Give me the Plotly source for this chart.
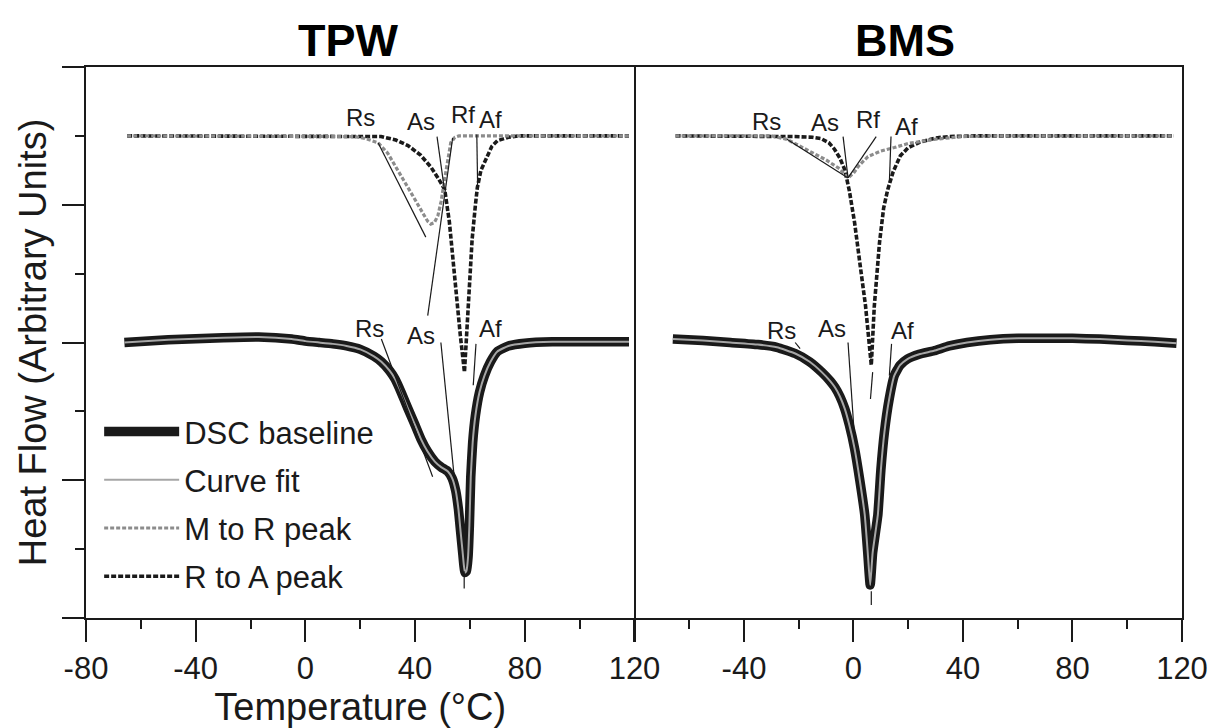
import plotly.graph_objects as go

# ---------------- data (temperature °C, heat flow in arbitrary units) ----------------
# TPW - DSC baseline (thick black) and curve fit (thin grey)
tpw_dsc_T = [-66, -50, -30, -17, -5, 0, 5, 10, 15, 20, 25, 27.7, 30.7, 32.7, 35, 37.4, 40, 42.1,
             44.5, 47.2, 49.5, 51.9, 53.5, 54.8, 55.8, 56.6, 57.3, 57.8, 58.2, 58.7, 59.3, 59.8,
             60.3, 61.0, 62.0, 63.5, 65.3, 67.5, 70, 74, 80, 90, 100, 118]
tpw_dsc = [4.00, 4.04, 4.07, 4.08, 4.05, 4.02, 4.00, 3.98, 3.95, 3.90, 3.80, 3.72, 3.59, 3.47,
           3.27, 3.04, 2.80, 2.60, 2.42, 2.27, 2.19, 2.13, 2.03, 1.85, 1.58, 1.25, 0.97, 0.76,
           0.66, 0.68, 0.88, 1.35, 2.05, 2.55, 2.94, 3.28, 3.52, 3.72, 3.87, 3.95, 3.99, 4.01,
           4.01, 4.01]
tpw_fit_T = tpw_dsc_T
tpw_fit = [4.00, 4.04, 4.07, 4.08, 4.05, 4.02, 4.00, 3.98, 3.95, 3.90, 3.80, 3.72, 3.59, 3.47,
           3.27, 3.04, 2.80, 2.60, 2.42, 2.27, 2.19, 2.13, 2.03, 1.85, 1.58, 1.25, 0.97, 0.76,
           0.66, 0.68, 0.88, 1.35, 2.05, 2.55, 2.94, 3.28, 3.52, 3.72, 3.87, 3.95, 3.99, 4.01,
           4.01, 4.01]

# TPW - M to R peak (grey dashed)
tpw_mr_T = [-65, 0, 15, 18, 22, 26.5, 30, 33.8, 37, 39.9, 42.5, 44.6, 45.7, 47, 48.3, 49.5,
            50.8, 52, 53, 54.5, 56, 118]
tpw_mr = [7.0, 7.0, 7.0, 6.99, 6.96, 6.90, 6.75, 6.50, 6.28, 6.08, 5.90, 5.76, 5.72, 5.74,
          5.84, 6.05, 6.38, 6.70, 6.90, 6.98, 7.0, 7.0]

# TPW - R to A peak (black dashed)
tpw_ra_T = [-65, 20, 27.6, 33, 37.4, 42, 45.7, 48.5, 50.8, 52.5, 54, 55.1, 56.5, 58.0, 58.8,
            59.5, 60.8, 62.0, 62.7, 64, 65.3, 68, 70, 74, 78, 118]
tpw_ra = [7.0, 7.0, 6.99, 6.94, 6.86, 6.72, 6.55, 6.38, 6.22, 5.75, 5.12, 4.63, 4.10, 3.57,
          4.10, 4.63, 5.50, 6.00, 6.25, 6.50, 6.62, 6.85, 6.93, 6.98, 7.0, 7.0]

# BMS - DSC baseline and curve fit
bms_dsc_T = [-66, -55, -45, -35, -28, -21.3, -16, -11.6, -8.5, -6.8, -5, -3.2, -1.5, 0.4, 2.3,
             4.1, 5.2, 6.1, 7.0, 8.9, 10, 11.3, 13, 14.9, 17, 19.7, 24, 29.4, 35, 41.5, 50, 60,
             70, 80, 90, 100, 110, 118]
bms_dsc = [4.05, 4.03, 4.00, 3.97, 3.93, 3.84, 3.72, 3.57, 3.44, 3.35, 3.22, 3.04, 2.80, 2.46,
           2.00, 1.50, 0.95, 0.48, 0.95, 1.50, 2.15, 2.70, 3.17, 3.52, 3.67, 3.76, 3.83, 3.88,
           3.95, 4.00, 4.04, 4.06, 4.06, 4.06, 4.05, 4.03, 4.01, 3.99]
bms_fit_T = bms_dsc_T
bms_fit = [4.05, 4.03, 4.00, 3.97, 3.93, 3.84, 3.72, 3.57, 3.44, 3.35, 3.22, 3.04, 2.80, 2.46,
           2.00, 1.50, 0.95, 0.48, 0.95, 1.50, 2.15, 2.70, 3.17, 3.52, 3.67, 3.76, 3.83, 3.88,
           3.95, 4.00, 4.04, 4.06, 4.06, 4.06, 4.05, 4.03, 4.01, 3.99]

# BMS - M to R peak (grey dashed)
bms_mr_T = [-65, -30, -24.3, -20, -15, -10, -5, -2.0, 0, 2, 5.3, 10, 14.9, 20, 29.4, 40, 50, 117]
bms_mr = [7.0, 7.0, 6.95, 6.86, 6.76, 6.65, 6.52, 6.39, 6.46, 6.57, 6.70, 6.78, 6.83, 6.89,
          6.95, 6.99, 7.0, 7.0]

# BMS - R to A peak (black dashed)
bms_ra_T = [-65, -25, -21.5, -15, -11.8, -9, -7, -5, -3.2, -1.5, 0.4, 2.5, 4.4, 6.5, 7.6, 9.5,
            11, 12.5, 14.5, 17.1, 20, 24.3, 30, 35, 45, 117]
bms_ra = [7.0, 7.0, 6.99, 6.98, 6.96, 6.90, 6.81, 6.68, 6.51, 6.20, 5.74, 5.10, 4.53, 3.67,
          4.53, 5.45, 5.95, 6.22, 6.48, 6.71, 6.83, 6.91, 6.97, 6.99, 7.0, 7.0]

# Transition labels: text, position (T, heat flow), leader start/end (T, heat flow)
tpw_labels = ["Rs", "As", "Rf", "Af", "Rs", "As", "Af"]
tpw_label_T = [20.0, 42.0, 57.3, 67.6, 23.5, 42.2, 67.6]
tpw_label_v = [7.26, 7.21, 7.31, 7.24, 4.20, 4.10, 4.20]
tpw_lead_T0 = [26.5, 48.0, 53.7, 62.5, 27.7, 49.4, 62.2, 57.9]
tpw_lead_v0 = [6.90, 6.99, 6.97, 7.02, 4.05, 4.00, 3.98, 0.68]
tpw_lead_T1 = [43.9, 50.7, 44.6, 62.8, 46.4, 54.3, 61.2, 57.9]
tpw_lead_v1 = [5.53, 6.22, 4.39, 6.27, 2.05, 2.03, 3.38, 0.43]

bms_labels = ["Rs", "As", "Rf", "Af", "Rs", "As", "Af"]
bms_label_T = [-31.6, -10.4, 5.3, 19.2, -26.3, -8.0, 17.9]
bms_label_v = [7.21, 7.19, 7.24, 7.14, 4.17, 4.20, 4.17]
bms_lead_T0 = [-24.3, -3.8, 8.3, 13.7, -21.3, -2.0, 13.9, 6.5, 7.0]
bms_lead_v0 = [6.95, 6.99, 6.99, 6.99, 4.00, 4.00, 3.98, 0.39, 3.57]
bms_lead_T1 = [-2.0, -2.0, -2.0, 13.1, -19.5, 0.4, 13.1, 6.5, 6.2]
bms_lead_v1 = [6.39, 6.39, 6.39, 6.32, 3.91, 2.60, 3.52, 0.19, 3.18]

x_ticks = [-80, -40, 0, 40, 80, 120]
x_ticktext_left = ["-80", "-40", "0", "40", "80", "120"]
x_ticktext_right = ["", "-40", "0", "40", "80", "120"]

# ---------------- figure ----------------
FONT = "Liberation Sans, Arial, sans-serif"
INK = "#1a1a1a"
fig = go.Figure()


def add_panel(xa, ya, dT, dv, fT, fv, mT, mv, rT, rv, legend):
    fig.add_trace(go.Scatter(x=rT, y=rv, mode="lines", name="R to A peak", legendgroup="d",
                             showlegend=legend, legendrank=4, xaxis=xa, yaxis=ya,
                             line=dict(color=INK, width=3.6, dash="5px,2px")))
    fig.add_trace(go.Scatter(x=mT, y=mv, mode="lines", name="M to R peak", legendgroup="c",
                             showlegend=legend, legendrank=3, xaxis=xa, yaxis=ya,
                             line=dict(color="#8c8c8c", width=3.2, dash="4px,2px")))
    fig.add_trace(go.Scatter(x=dT, y=dv, mode="lines", name="DSC baseline", legendgroup="a",
                             showlegend=legend, legendrank=1, xaxis=xa, yaxis=ya,
                             line=dict(color=INK, width=9.5, shape="spline", smoothing=0.4)))
    fig.add_trace(go.Scatter(x=fT, y=fv, mode="lines", name="Curve fit", legendgroup="b",
                             showlegend=legend, legendrank=2, xaxis=xa, yaxis=ya,
                             line=dict(color="#a6a6a6", width=2, shape="spline", smoothing=0.4)))


def add_leaders(xa, ya, T0, v0, T1, v1):
    xs, ys = [], []
    for a, b, c, d in zip(T0, v0, T1, v1):
        xs += [a, c, None]
        ys += [b, d, None]
    fig.add_trace(go.Scatter(x=xs, y=ys, mode="lines", showlegend=False, xaxis=xa, yaxis=ya,
                             line=dict(color=INK, width=1.2), hoverinfo="skip"))


add_panel("x", "y", tpw_dsc_T, tpw_dsc, tpw_fit_T, tpw_fit, tpw_mr_T, tpw_mr, tpw_ra_T, tpw_ra, True)
add_panel("x2", "y2", bms_dsc_T, bms_dsc, bms_fit_T, bms_fit, bms_mr_T, bms_mr, bms_ra_T, bms_ra, False)
add_leaders("x", "y", tpw_lead_T0, tpw_lead_v0, tpw_lead_T1, tpw_lead_v1)
add_leaders("x2", "y2", bms_lead_T0, bms_lead_v0, bms_lead_T1, bms_lead_v1)

annotations = []
for t, xv, yv in zip(tpw_labels, tpw_label_T, tpw_label_v):
    annotations.append(dict(text=t, x=xv, y=yv, xref="x", yref="y", showarrow=False,
                            font=dict(family=FONT, size=24, color=INK)))
for t, xv, yv in zip(bms_labels, bms_label_T, bms_label_v):
    annotations.append(dict(text=t, x=xv, y=yv, xref="x2", yref="y2", showarrow=False,
                            font=dict(family=FONT, size=24, color=INK)))
annotations.append(dict(text="<b>TPW</b>", x=0.2393, y=1.049, xref="paper", yref="paper",
                        xanchor="center", yanchor="middle", showarrow=False,
                        font=dict(family=FONT, size=45, color="#000")))
annotations.append(dict(text="<b>BMS</b>", x=0.747, y=1.049, xref="paper", yref="paper",
                        xanchor="center", yanchor="middle", showarrow=False,
                        font=dict(family=FONT, size=45, color="#000")))

split = 552 / 1103
axis_common = dict(showline=True, linewidth=2, linecolor=INK, mirror=True, showgrid=False,
                   zeroline=False, range=[-80, 120], tickmode="array", tickvals=x_ticks,
                   ticks="outside", ticklen=22, tickwidth=2, tickcolor=INK,
                   tickfont=dict(family=FONT, size=31, color=INK),
                   minor=dict(ticks="outside", ticklen=9, tickwidth=2, tickcolor=INK,
                              dtick=20, tick0=-80, showgrid=False))

fig.update_layout(
    width=1220, height=728,
    margin=dict(l=86, r=31, t=67, b=108),
    paper_bgcolor="white", plot_bgcolor="white",
    font=dict(family=FONT, color=INK),
    xaxis=dict(domain=[0, split], anchor="y", ticktext=x_ticktext_left,
               title=dict(text="Temperature (°C)", font=dict(family=FONT, size=38, color=INK),
                          standoff=3), **axis_common),
    xaxis2=dict(domain=[split, 1], anchor="y2", ticktext=x_ticktext_right, **axis_common),
    yaxis=dict(domain=[0, 1], anchor="x", range=[0, 8], showline=True, linewidth=2,
               linecolor=INK, mirror=True, showgrid=False, zeroline=False,
               tickmode="array", tickvals=[0, 2, 4, 6, 8], showticklabels=False,
               ticks="outside", ticklen=22, tickwidth=2, tickcolor=INK,
               minor=dict(ticks="outside", ticklen=9, tickwidth=2, tickcolor=INK,
                          tickmode="array", tickvals=[1, 3, 5, 7], showgrid=False),
               title=dict(text="Heat Flow (Arbitrary Units)",
                          font=dict(family=FONT, size=38, color=INK), standoff=4)),
    yaxis2=dict(domain=[0, 1], anchor="x2", side="right", range=[0, 8], showline=True,
                linewidth=2, linecolor=INK, mirror=False, showgrid=False, zeroline=False,
                showticklabels=False, ticks=""),
    legend=dict(x=0.012, y=(620 - 406) / 553, xanchor="left", yanchor="top",
                bgcolor="rgba(0,0,0,0)", font=dict(family=FONT, size=31, color=INK),
                itemwidth=75, tracegroupgap=5, traceorder="grouped"),
    annotations=annotations,
)

fig.write_html("out.html")
